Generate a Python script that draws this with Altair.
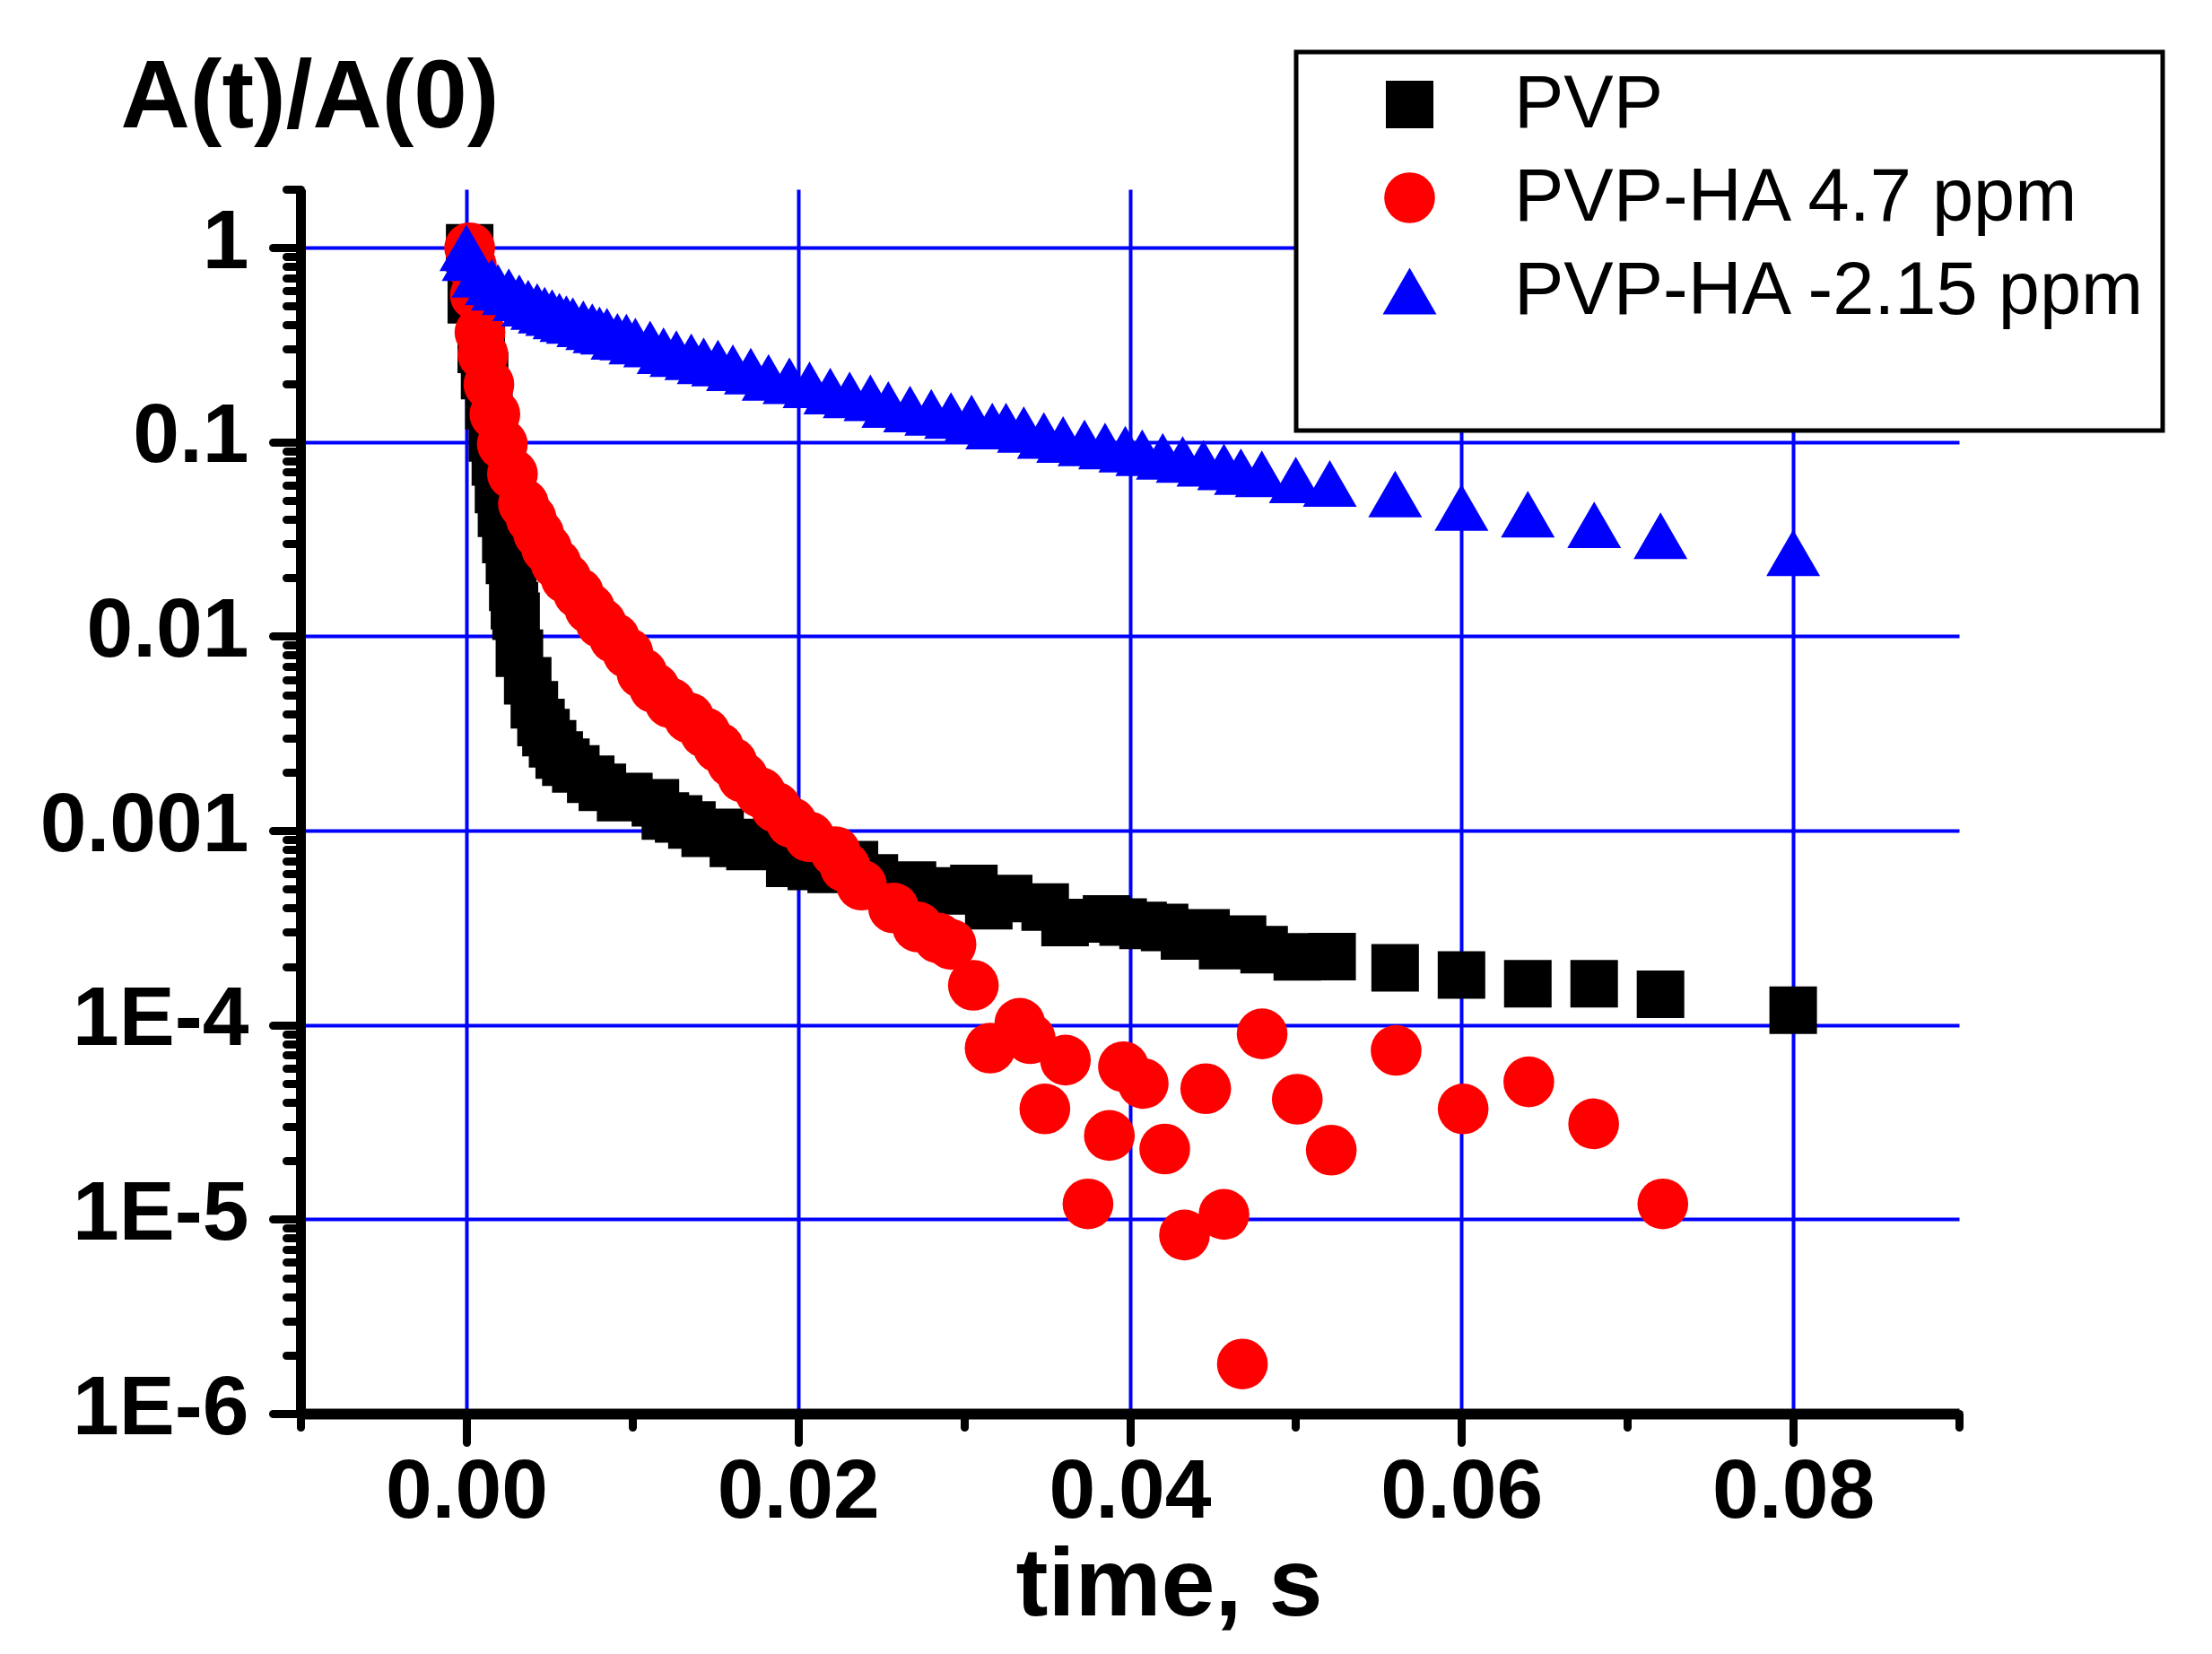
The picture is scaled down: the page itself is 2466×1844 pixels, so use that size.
import altair as alt
import pandas as pd

FONT = "Liberation Sans"

series_names = ["PVP", "PVP-HA 4.7 ppm", "PVP-HA -2.15 ppm"]
series_colors = ["#000000", "#FF0000", "#0000FF"]
series_shapes = ["square", "circle", "triangle-up"]
series_sizes = [2809, 3600, 4624]

# PVP (black squares)
t_pvp = [0.0002, 0.0003, 0.0009, 0.0011, 0.00136, 0.00157, 0.00175, 0.00194, 0.00212, 0.00238,
         0.0026, 0.0028, 0.0029, 0.0030, 0.0032, 0.0037, 0.0041, 0.0045, 0.0048, 0.0052,
         0.0056, 0.0060, 0.0066, 0.0075, 0.0082, 0.0093, 0.0098, 0.0114, 0.0120, 0.0128,
         0.0136, 0.0144, 0.0153, 0.0161, 0.0166, 0.0171, 0.0195, 0.0208, 0.0220, 0.0234,
         0.0246, 0.0269, 0.0291, 0.0306, 0.0315, 0.0327, 0.0349, 0.0361, 0.0386, 0.0396,
         0.0408, 0.0421, 0.0433, 0.0446, 0.0456, 0.0468, 0.0481, 0.0501, 0.0522, 0.0560,
         0.0600, 0.0640, 0.0680, 0.0720, 0.0800]
v_pvp = [1.0, 0.54, 0.30, 0.22, 0.154, 0.105, 0.079, 0.057, 0.043, 0.0315,
         0.0246, 0.0179, 0.0144, 0.0127, 0.0082, 0.0059, 0.00445, 0.0036, 0.0032, 0.0028,
         0.00245, 0.00225, 0.00208, 0.00184, 0.00167, 0.00148, 0.00150, 0.00139, 0.00119, 0.00115,
         0.00107, 0.00097, 0.00098, 0.00086, 0.00087, 0.00083, 0.00068, 0.000655, 0.000632, 0.000668,
         0.000571, 0.000525, 0.00049, 0.000504, 0.000411, 0.000448, 0.000405, 0.000337, 0.000351, 0.000339,
         0.000325, 0.000318, 0.000287, 0.000298, 0.000256, 0.000277, 0.000244, 0.000224, 0.000225, 0.000197,
         0.000181, 0.000163, 0.000163, 0.000144, 0.000119]

# PVP-HA 4.7 ppm (red circles)
t_red = [0.0002, 0.0003, 0.00054, 0.00082, 0.0010, 0.00136, 0.00172, 0.00217, 0.00278, 0.00344,
         0.00391, 0.00436, 0.00484, 0.00541, 0.00601, 0.00676, 0.00744, 0.00812, 0.00893, 0.00974,
         0.01059, 0.01134, 0.01229, 0.01342, 0.0144, 0.01521, 0.01602, 0.01668, 0.01773, 0.01866,
         0.01961, 0.02068, 0.02224, 0.02284, 0.02383, 0.02576, 0.02721, 0.02847, 0.02922, 0.03057,
         0.03158, 0.03337, 0.0340, 0.03488, 0.03612, 0.03748, 0.03877, 0.03962, 0.04081, 0.04211,
         0.0433, 0.04458, 0.04568, 0.04679, 0.04798, 0.0501, 0.05215, 0.05606, 0.0601, 0.06406,
         0.06797, 0.07214]
v_red = [1.0, 0.81, 0.57, 0.367, 0.282, 0.198, 0.139, 0.0976, 0.0685, 0.0481,
         0.0403, 0.0338, 0.0283, 0.0237, 0.0199, 0.0167, 0.0139, 0.0117, 0.0098, 0.0082,
         0.00647, 0.00543, 0.00455, 0.00381, 0.00319, 0.00268, 0.00224, 0.00188, 0.00157, 0.00132,
         0.0011, 0.00093, 0.00078, 0.00065, 0.000525, 0.0004, 0.00032, 0.00028, 0.00026, 0.00016,
         7.6e-5, 0.000102, 8.5e-5, 3.7e-5, 6.6e-5, 1.2e-5, 2.7e-5, 6.1e-5, 5.0e-5, 2.3e-5,
         8.3e-6, 4.7e-5, 1.06e-5, 1.8e-6, 9.0e-5, 4.15e-5, 2.27e-5, 7.4e-5, 3.7e-5, 5.1e-5,
         3.1e-5, 1.2e-5]

# PVP-HA -2.15 ppm (blue triangles)
t_blue = [0.0, 0.00014, 0.00073, 0.00153, 0.0019, 0.00256, 0.00319, 0.00373, 0.00427, 0.00472,
          0.00517, 0.00561, 0.00603, 0.00642, 0.00705, 0.00759, 0.00803, 0.00848, 0.00911, 0.00965,
          0.01019, 0.01108, 0.01189, 0.01266, 0.01356, 0.01431, 0.01517, 0.01607, 0.01715, 0.01822,
          0.01948, 0.02069, 0.02194, 0.02311, 0.02436, 0.02544, 0.02675, 0.02803, 0.02922, 0.03046,
          0.03171, 0.03254, 0.03361, 0.03482, 0.03598, 0.03727, 0.03851, 0.03973, 0.04075, 0.04199,
          0.04319, 0.04444, 0.04568, 0.0467, 0.04796, 0.05001, 0.05206, 0.056, 0.060, 0.064,
          0.068, 0.072, 0.080]
v_blue = [1.0, 0.89, 0.73, 0.667, 0.626, 0.594, 0.553, 0.519, 0.498, 0.477,
          0.464, 0.445, 0.432, 0.422, 0.406, 0.392, 0.378, 0.372, 0.350, 0.347,
          0.331, 0.320, 0.295, 0.285, 0.275, 0.262, 0.255, 0.241, 0.232, 0.215,
          0.207, 0.197, 0.183, 0.175, 0.169, 0.156, 0.148, 0.142, 0.137, 0.133,
          0.121, 0.121, 0.116, 0.108, 0.103, 0.099, 0.0954, 0.0919, 0.0881, 0.0845,
          0.0813, 0.0778, 0.0745, 0.0704, 0.0686, 0.0638, 0.0612, 0.054, 0.0461, 0.0425,
          0.0375, 0.033, 0.0269]

x_tick_values = [-0.01, 0.0, 0.01, 0.02, 0.03, 0.04, 0.05, 0.06, 0.07, 0.08, 0.09]
y_tick_values = []
for e in range(-6, 1):
    for m in range(1, 10):
        val = float(f"{m}e{e}")
        if val <= 2:
            y_tick_values.append(val)

rows = []
for name, ts, vs in zip(series_names, [t_pvp, t_red, t_blue], [v_pvp, v_red, v_blue]):
    for t, v in zip(ts, vs):
        rows.append({"time": t, "ratio": v, "series": name})
df = pd.DataFrame(rows)

W, H = 1849, 1365

x_major = "abs(datum.value*50 - round(datum.value*50)) < 0.001"
y_major = "abs(log(datum.value)/LN10 - round(log(datum.value)/LN10)) < 0.001"

x_axis = alt.Axis(
    values=x_tick_values,
    labelExpr=f"{x_major} ? format(datum.value, '.2f') : ''",
    title="time, s",
    titleFont=FONT, titleFontSize=108, titleFontWeight="bold", titleColor="black",
    titleX=968, titleY=224, titleAlign="center", titleBaseline="alphabetic",
    labelFont=FONT, labelFontSize=93, labelFontWeight="bold", labelColor="black",
    labelPadding=10, labelOverlap=False, labelFlush=False, labelLimit=1000,
    domainColor="black", domainWidth=12,
    tickColor="black", tickWidth=9, tickCap="round",
    tickSize={"condition": {"test": x_major, "value": 32}, "value": 15},
    grid=True, gridColor="#0000FF", gridWidth=4,
    gridOpacity={"condition": {"test": x_major, "value": 1}, "value": 0},
)

y_axis = alt.Axis(
    values=y_tick_values,
    labelExpr=(f"{y_major} ? (round(log(datum.value)/LN10) >= -3 ? '' + datum.value : "
               f"'1E' + round(log(datum.value)/LN10)) : ''"),
    title="A(t)/A(0)",
    titleFont=FONT, titleFontSize=107, titleFontWeight="bold", titleColor="black",
    titleAngle=0, titleX=-201, titleY=-70, titleAlign="left", titleBaseline="alphabetic",
    labelFont=FONT, labelFontSize=93, labelFontWeight="bold", labelColor="black",
    labelPadding=27, labelOffset=-6, labelOverlap=False, labelFlush=False, labelLimit=1000,
    domainColor="black", domainWidth=11,
    tickColor="black", tickWidth=9, tickCap="round",
    tickSize={"condition": {"test": y_major, "value": 31}, "value": 16},
    grid=True, gridColor="#0000FF", gridWidth=4,
    gridOpacity={"condition": {"test": y_major, "value": 1}, "value": 0},
)

legend = alt.Legend(
    title=" ", titleOrient="bottom", titleFontSize=70, titlePadding=27,
    orient="none", legendX=1110, legendY=-153,
    labelFont=FONT, labelFontSize=83, labelColor="black", labelLimit=2000,
    labelExpr="datum.label + '\u00a0\u00a0\u00a0'",
    labelOffset=75, symbolOffset=68, rowPadding=20, padding=17,
    strokeColor="black", fillColor="white", symbolStrokeWidth=0,
)

chart = alt.Chart(df).mark_point(filled=True, opacity=1, strokeWidth=0).encode(
    x=alt.X("time:Q", scale=alt.Scale(domain=[-0.01, 0.09], nice=False, zero=False), axis=x_axis),
    y=alt.Y("ratio:Q", scale=alt.Scale(type="log", domain=[1e-6, 2], nice=False), axis=y_axis),
    color=alt.Color("series:N", scale=alt.Scale(domain=series_names, range=series_colors), legend=legend),
    shape=alt.Shape("series:N", scale=alt.Scale(domain=series_names, range=series_shapes), legend=legend),
    size=alt.Size("series:N", scale=alt.Scale(domain=series_names, range=series_sizes), legend=legend),
).properties(
    width=W, height=H,
    autosize=alt.AutoSizeParams(type="none"),
    padding={"left": 327, "top": 203, "right": 274, "bottom": 260},
    background="white",
).configure_view(
    strokeWidth=0
).configure_legend(
    strokeWidth=5
)

chart.save("out.html", embed_options={"renderer": "svg", "actions": False})
